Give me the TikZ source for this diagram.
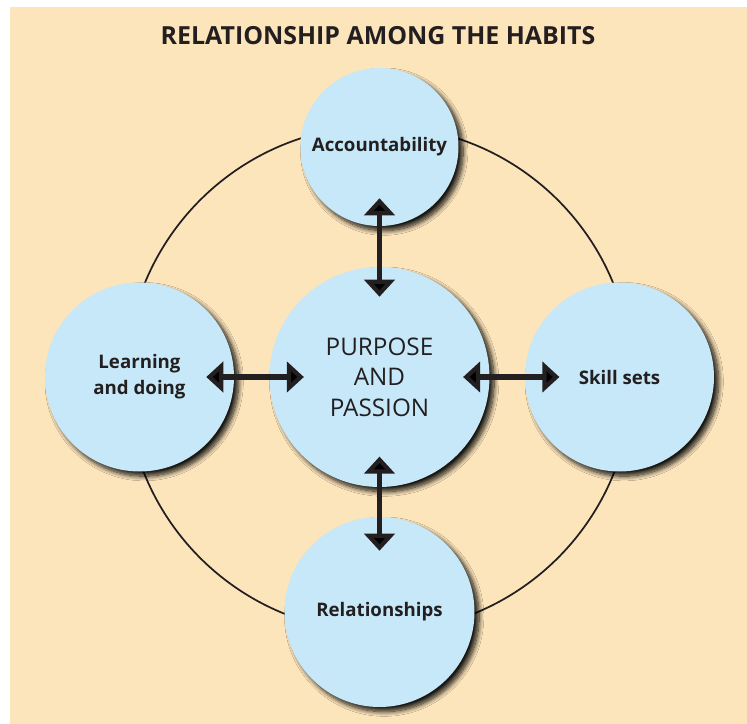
\documentclass[tikz,border=0pt]{standalone}
\usepackage{fontspec}
\setmainfont{Open Sans}
\usepackage{tikz}
\usetikzlibrary{positioning, arrows.meta, shadows, shadows.blur}

\definecolor{paper}{HTML}{FCE4BB}
\definecolor{bubble}{HTML}{C6E8F8}
\definecolor{ink}{HTML}{231F20}

\begin{document}
\begin{tikzpicture}[x=0.75pt, y=-0.75pt, node distance=180pt]
        \tikzstyle{habit}=[circle, fill=bubble, inner sep=0pt, text=ink, align=center,
          font=\bfseries\fontsize{14}{19.5}\selectfont,
          blur shadow={shadow xshift=3.5pt, shadow yshift=-3.5pt, shadow blur radius=3.5pt,
            shadow opacity=90, shadow blur steps=10}];
        \tikzstyle{dbl}=[draw=ink, line width=4pt,
          {Triangle[width=22.5pt, length=12.75pt]}-{Triangle[width=22.5pt, length=12.75pt]}];
        \useasboundingbox (0,0) rectangle (747,724);
        \fill[paper] (10,7) rectangle (747,724);
        \node[text=ink, font=\bfseries\fontsize{18.7}{22}\selectfont] (title) at (378,36) {RELATIONSHIP AMONG THE HABITS};
        \coordinate (hub) at (379,379);
        \draw[ink, line width=1.3pt] (hub) circle[radius=189.75pt];
        \node[habit, minimum size=165pt, font=\fontsize{18.2}{23}\selectfont] (purp) at (379.5,377) {PURPOSE\\AND\\PASSION};
        \node[habit, minimum size=118.5pt, above of=purp, node distance=172.5pt] (acc) {Accountability};
        \node[habit, minimum size=141.75pt, left of=purp] (learn) {Learning\\and doing};
        \node[habit, minimum size=141.75pt, right of=purp] (skill) {Skill sets};
        \node[habit, minimum size=142.5pt, below of=purp, node distance=176.25pt] (rel) {Relationships};

        \path[dbl]
        (acc) edge[shorten <=-21pt, shorten >=-22.5pt] (purp)
        (learn) edge[shorten <=-21pt, shorten >=-26pt] (purp)
        (purp) edge[shorten <=-20pt, shorten >=-26pt] (skill)
        (purp) edge[shorten <=-23pt, shorten >=-25.5pt] (rel);
      \end{tikzpicture}
\end{document}
